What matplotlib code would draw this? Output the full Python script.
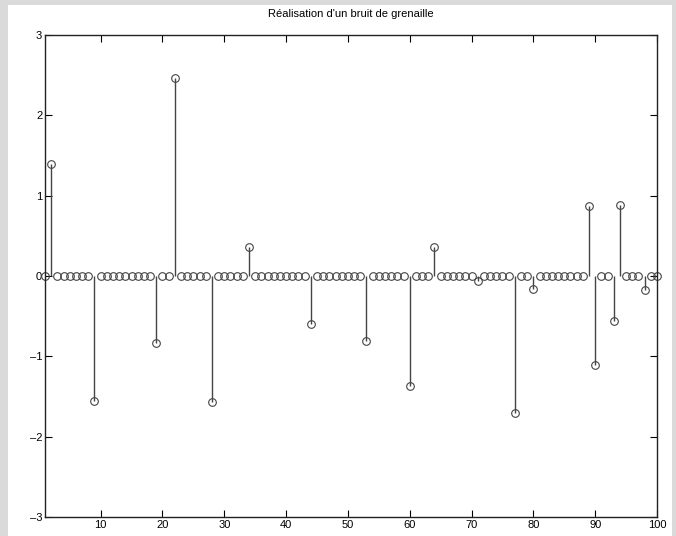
# Réalisation d'un bruit de grenaille (stem plot façon MATLAB)

import numpy as np
import matplotlib.pyplot as plt
from matplotlib.patches import Rectangle

plt.rcParams['font.family'] = ['Liberation Sans', 'DejaVu Sans']
plt.rcParams['font.size'] = 8

# indices 1..100
n = np.arange(1, 101)
# valeurs
bruit = [0, 1.39, 0, 0, 0, 0, 0, 0, -1.55, 0,
         0, 0, 0, 0, 0, 0, 0, 0, -0.84, 0,
         0, 2.47, 0, 0, 0, 0, 0, -1.57, 0, 0,
         0, 0, 0, 0.36, 0, 0, 0, 0, 0, 0,
         0, 0, 0, -0.60, 0, 0, 0, 0, 0, 0,
         0, 0, -0.81, 0, 0, 0, 0, 0, 0, -1.37,
         0, 0, 0, 0.36, 0, 0, 0, 0, 0, 0,
         -0.06, 0, 0, 0, 0, 0, -1.71, 0, 0, -0.16,
         0, 0, 0, 0, 0, 0, 0, 0, 0.87, -1.11,
         0, 0, -0.56, 0.89, 0, 0, 0, -0.18, 0, 0]
yticks = [-3, -2, -1, 0, 1, 2, 3]
xticks = [10, 20, 30, 40, 50, 60, 70, 80, 90, 100]

fig = plt.figure(figsize=(6.76, 5.36), dpi=100, facecolor='#dadada')
# fond blanc de la fenêtre MATLAB
fig.patches.append(Rectangle((8 / 676, 0), (672 - 8) / 676, (536 - 5) / 536,
                             transform=fig.transFigure, facecolor='white',
                             edgecolor='none', zorder=-10))

ax = fig.add_axes([45 / 676, 19 / 536, 612 / 676, 482 / 536])
ax.set_facecolor('white')

gris = '#454545'
ml, sl, bl = ax.stem(n, bruit, basefmt=' ')
plt.setp(sl, color=gris, linewidth=1)
plt.setp(ml, marker='o', markersize=5.5, markerfacecolor='none',
         markeredgecolor=gris, markeredgewidth=0.8, clip_on=False)
bl.set_visible(False)

ax.set_xlim(1, 100)
ax.set_ylim(-3, 3)
ax.set_xticks(xticks)
ax.set_yticks(yticks)
ax.set_yticklabels([str(v).replace('-', '\u2013') for v in yticks])
ax.tick_params(direction='in', length=5, width=0.8, top=True, right=True,
               labelsize=8, pad=2)
for s in ax.spines.values():
    s.set_linewidth(1)
    s.set_color('#222222')

ax.set_title("Réalisation d'un bruit de grenaille", fontsize=8, pad=13)

fig.savefig('out.png', dpi=100, facecolor=fig.get_facecolor())
